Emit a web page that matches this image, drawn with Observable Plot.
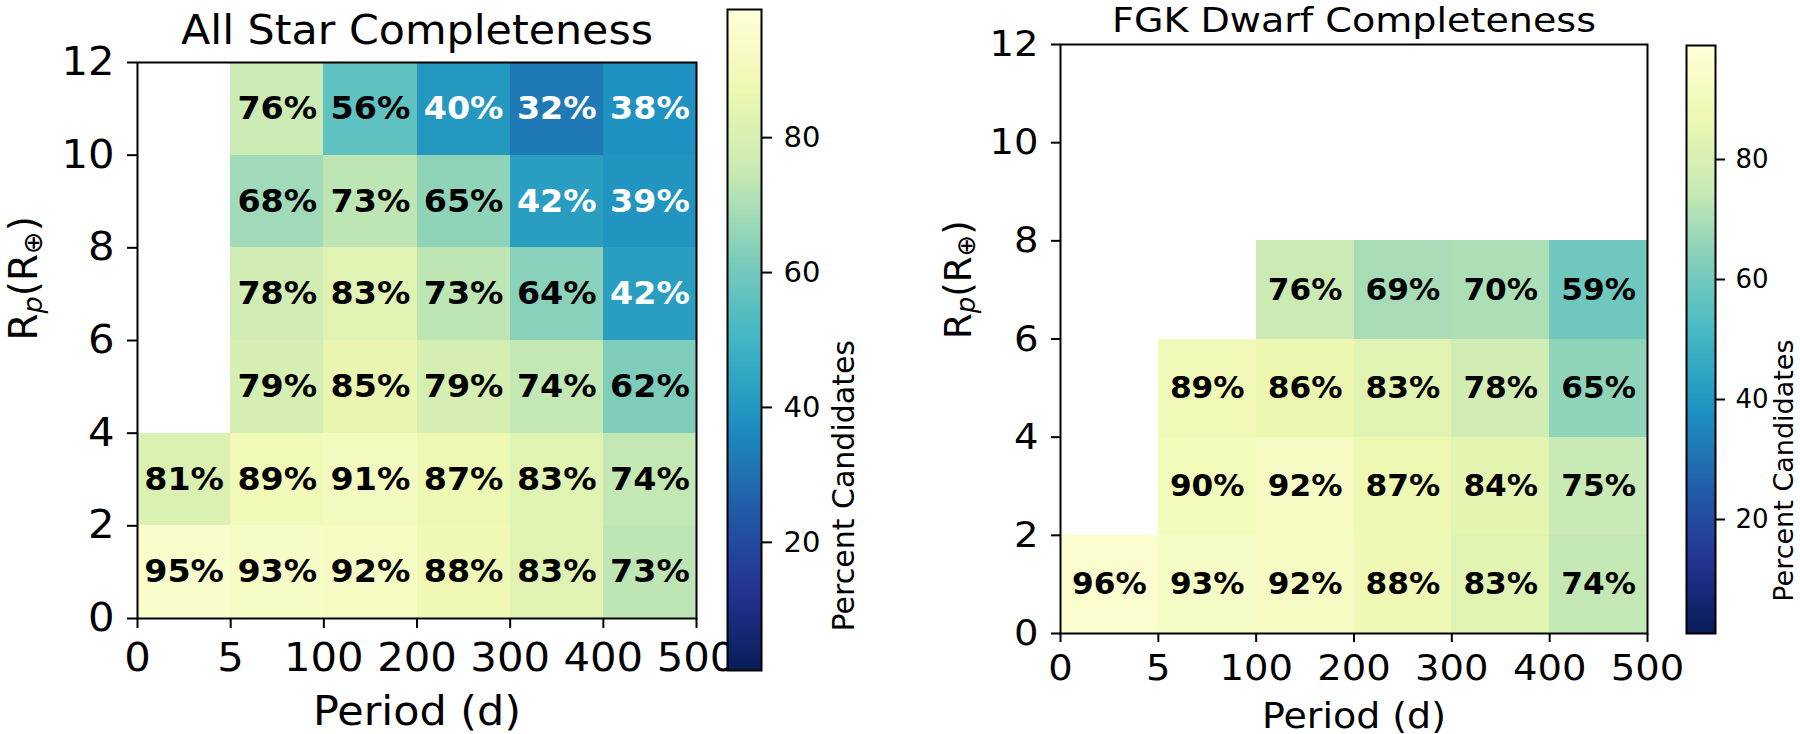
<!DOCTYPE html>
<html>
<head>
<meta charset="utf-8">
<script src="https://cdn.jsdelivr.net/npm/d3@7"></script>
<script src="https://cdn.jsdelivr.net/npm/@observablehq/plot@0.6"></script>
<style>
  html, body { margin: 0; padding: 0; background: white; overflow: hidden; }
  #root { position: relative; width: 1800px; height: 734px; background: white; overflow: hidden; }
  #root > svg { position: absolute; top: 0; }
</style>
</head>
<body>
<div id="root"></div>
<script>
// ---- data ----
const periodTicks = ["0", "5", "100", "200", "300", "400", "500"];
const radiusTicks = [0, 2, 4, 6, 8, 10, 12];
const rowBottoms = [0, 2, 4, 6, 8, 10];
const colorbarTicks = [20, 40, 60, 80];
const colorDomain = [1, 99];

// All Star completeness (%), rows from Rp 0-2 upward, columns = period bins
const allStar_R0_2   = [95, 93, 92, 88, 83, 73];
const allStar_R2_4   = [81, 89, 91, 87, 83, 74];
const allStar_R4_6   = [null, 79, 85, 79, 74, 62];
const allStar_R6_8   = [null, 78, 83, 73, 64, 42];
const allStar_R8_10  = [null, 68, 73, 65, 42, 39];
const allStar_R10_12 = [null, 76, 56, 40, 32, 38];

// FGK Dwarf completeness (%)
const fgk_R0_2 = [96, 93, 92, 88, 83, 74];
const fgk_R2_4 = [null, 90, 92, 87, 84, 75];
const fgk_R4_6 = [null, 89, 86, 83, 78, 65];
const fgk_R6_8 = [null, null, 76, 69, 70, 59];

// matplotlib YlGnBu stops
const ylgnbu = ["#ffffd9", "#edf8b1", "#c7e9b4", "#7fcdbb", "#41b6c4", "#1d91c0", "#225ea8", "#253494", "#081d58"];

function cells(rows) {
  return rows.flatMap((row, r) =>
    row.map((v, i) => ({i, y: rowBottoms[r], v})).filter(d => d.v != null));
}
const allStarCells = cells([allStar_R0_2, allStar_R2_4, allStar_R4_6, allStar_R6_8, allStar_R8_10, allStar_R10_12]);
const fgkCells = cells([fgk_R0_2, fgk_R2_4, fgk_R4_6, fgk_R6_8]);

const colorOpts = {
  type: "linear",
  domain: colorDomain,
  interpolate: d3.piecewise(d3.interpolateRgb, ylgnbu.slice().reverse())
};
const baseStyle = {fontFamily: "'DejaVu Sans', sans-serif", overflow: "visible", background: "transparent", color: "black"};

function subscriptLabel(svg, size, shift) {
  const sub = Math.round(size * 0.7);
  svg.querySelectorAll("text").forEach(t => {
    if (t.textContent === "Rp(R⊕)") {
      t.textContent = "";
      const ns = "http://www.w3.org/2000/svg";
      t.appendChild(document.createTextNode("R"));
      const parts = [
        {s: "p", fs: sub, dy: shift, it: true},
        {s: "(R", fs: size, dy: -shift},
        {s: "⊕", fs: sub, dy: shift},
        {s: ")", fs: size, dy: -shift}
      ];
      for (const p of parts) {
        const ts = document.createElementNS(ns, "tspan");
        ts.setAttribute("font-size", p.fs);
        ts.setAttribute("dy", p.dy);
        if (p.it) ts.setAttribute("font-style", "italic");
        ts.textContent = p.s;
        t.appendChild(ts);
      }
    }
  });
}

// widen horizontal texts slightly (the reference glyphs are a little wide)
function widen(svg, o) {
  svg.querySelectorAll("text").forEach(t => {
    const s = t.textContent;
    const g = t.closest("g");
    const label = g ? (g.getAttribute("aria-label") || "") : "";
    let target = null;
    if (s === o.title) target = o.titleWidth;
    else if (s === "Period (d)") target = o.xLabelWidth;
    else if (/%$/.test(s)) target = t.getComputedTextLength() * o.cellStretch;
    else if (/tick label/.test(label) && o.tickStretch) target = t.getComputedTextLength() * o.tickStretch;
    if (target) {
      t.setAttribute("textLength", target.toFixed(1));
      t.setAttribute("lengthAdjust", "spacingAndGlyphs");
    }
  });
}

function heatmap(o) {
  const svg = Plot.plot({
    width: o.width, height: o.height,
    marginLeft: o.mL, marginRight: o.mR, marginTop: o.mT, marginBottom: o.mB,
    x: {domain: [0, periodTicks.length - 1], axis: null},
    y: {domain: [radiusTicks[0], radiusTicks[radiusTicks.length - 1]], axis: null},
    color: colorOpts,
    style: baseStyle,
    marks: [
      Plot.rect(o.data, {x1: "i", x2: d => d.i + 1, y1: "y", y2: d => d.y + 2, fill: "v", shapeRendering: "crispEdges"}),
      Plot.text(o.data.filter(d => d.v >= 50), {x: d => d.i + 0.5, y: d => d.y + 1, text: d => d.v + "%", fill: "black", fontWeight: "bold", fontSize: o.cellFont}),
      Plot.text(o.data.filter(d => d.v < 50), {x: d => d.i + 0.5, y: d => d.y + 1, text: d => d.v + "%", fill: "white", fontWeight: "bold", fontSize: o.cellFont}),
      Plot.frame({stroke: "black", strokeWidth: 2}),
      Plot.axisX({ticks: periodTicks.map((_, i) => i), tickFormat: i => periodTicks[i], tickSize: o.tick, tickPadding: o.xPad, fontSize: o.tickFont, strokeWidth: 2, label: null}),
      Plot.axisY({ticks: radiusTicks, tickSize: o.tick, tickPadding: o.yPad, fontSize: o.tickFont, strokeWidth: 2, label: null}),
      Plot.text([o.title], {text: d => d, frameAnchor: "top", dy: o.titleDy, lineAnchor: "bottom", fontSize: o.titleFont, fill: "black"}),
      Plot.text(["Period (d)"], {text: d => d, frameAnchor: "bottom", dy: o.xLabelDy, lineAnchor: "bottom", fontSize: o.labelFont, fill: "black"}),
      Plot.text(["Rp(R⊕)"], {text: d => d, frameAnchor: "left", dx: o.yLabelDx, rotate: -90, lineAnchor: "bottom", fontSize: o.yLabelFont, fill: "black"})
    ]
  });
  subscriptLabel(svg, o.yLabelFont, o.subShift);
  svg.style.left = o.left + "px";
  return svg;
}

function colorbar(o) {
  const rasterMark = Plot.raster
    ? Plot.raster({x1: 0, x2: 1, y1: colorDomain[0], y2: colorDomain[1], width: 1, height: 400, fill: (x, y) => y})
    : Plot.rect(d3.range(colorDomain[0], colorDomain[1], 0.25), {x1: 0, x2: 1, y1: d => d, y2: d => d + 0.25, fill: d => d + 0.125});
  const svg = Plot.plot({
    width: o.width, height: o.height,
    marginLeft: o.mL, marginRight: o.mR, marginTop: o.mT, marginBottom: o.mB,
    x: {domain: [0, 1], axis: null},
    y: {domain: colorDomain, axis: null},
    color: colorOpts,
    style: baseStyle,
    marks: [
      rasterMark,
      Plot.frame({stroke: "black", strokeWidth: 2}),
      Plot.axisY({anchor: "right", ticks: colorbarTicks, tickSize: o.tick, tickPadding: o.pad, fontSize: o.tickFont, strokeWidth: 2, label: null}),
      Plot.text(["Percent Candidates"], {text: d => d, frameAnchor: "right", dx: o.labelDx, rotate: -90, lineAnchor: "bottom", fontSize: o.labelFont, fill: "black"})
    ]
  });
  svg.style.left = o.left + "px";
  return svg;
}

const root = document.getElementById("root");

const leftOpts = {
  left: 0, width: 720, height: 734, mL: 137, mR: 24, mT: 62, mB: 116,
  data: allStarCells, title: "All Star Completeness",
  cellFont: 32, tick: 10, xPad: 15, yPad: 13, tickFont: 39,
  titleDy: -19, titleFont: 41, xLabelDy: 106, labelFont: 40,
  yLabelDx: -101, yLabelFont: 39, subShift: 5,
  titleWidth: 472, xLabelWidth: 208, cellStretch: 1.04, tickStretch: 1.07
};
const left = heatmap(leftOpts);
root.appendChild(left);
widen(left, leftOpts);

root.appendChild(colorbar({
  left: 700, width: 220, height: 734, mL: 27, mR: 159, mT: 9, mB: 64,
  tick: 10, pad: 12, tickFont: 29, labelDx: 92, labelFont: 30
}));

const rightOpts = {
  left: 900, width: 780, height: 734, mL: 160, mR: 33, mT: 44, mB: 101,
  data: fgkCells, title: "FGK Dwarf Completeness",
  cellFont: 30, tick: 9, xPad: 12, yPad: 13, tickFont: 36,
  titleDy: -13, titleFont: 33, xLabelDy: 94, labelFont: 36,
  yLabelDx: -90, yLabelFont: 37, subShift: 4.5,
  titleWidth: 484, xLabelWidth: 184, cellStretch: 1.04, tickStretch: 1.07
};
const right = heatmap(rightOpts);
root.appendChild(right);
widen(right, rightOpts);

root.appendChild(colorbar({
  left: 1670, width: 130, height: 734, mL: 16, mR: 85, mT: 45, mB: 101,
  tick: 9, pad: 11, tickFont: 26, labelDx: 77, labelFont: 27
}));
</script>
</body>
</html>
